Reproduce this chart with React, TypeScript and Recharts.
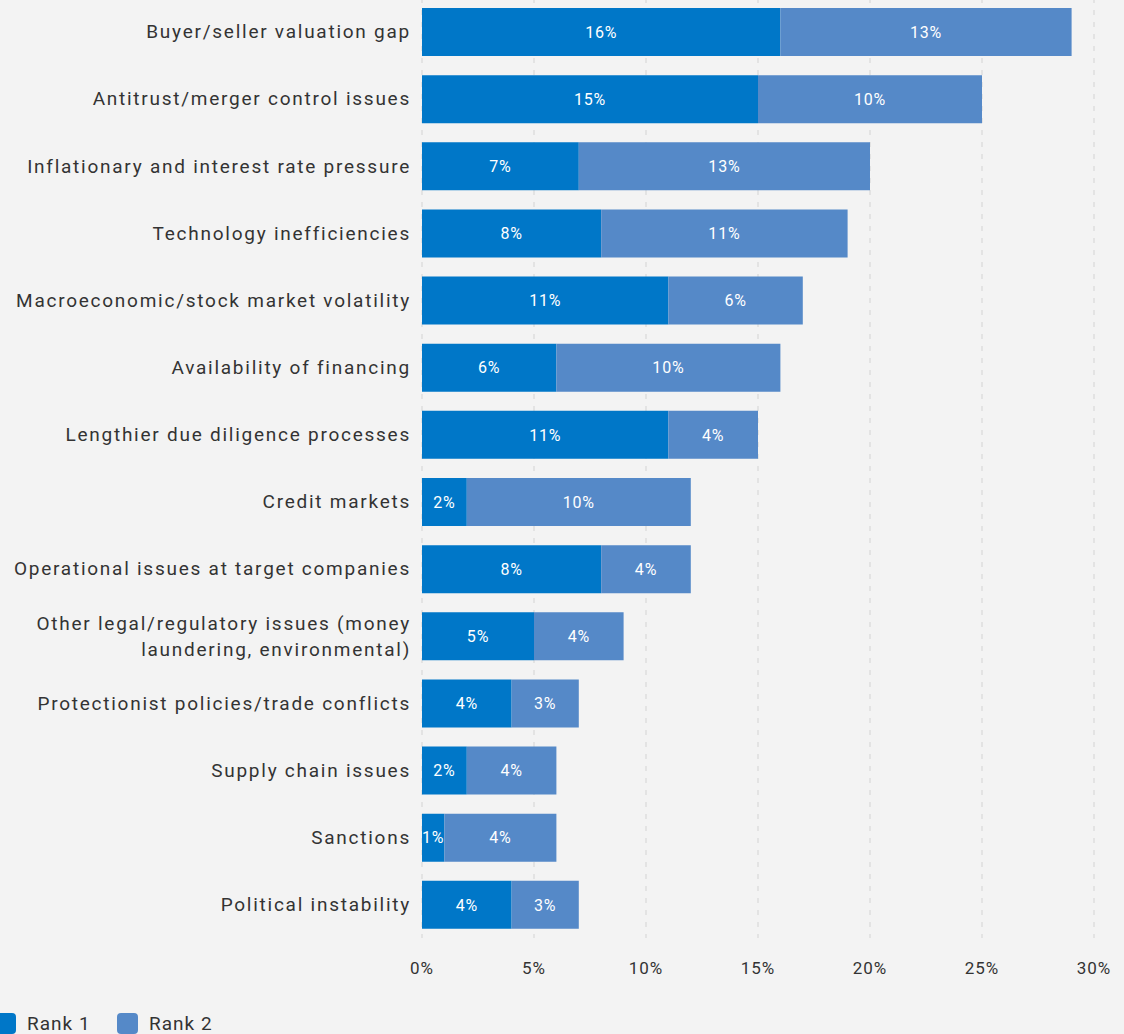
import React from 'react';
import {
  BarChart, Bar, XAxis, YAxis, CartesianGrid, Legend, LabelList,
} from 'recharts';

const categories = [
  'Buyer/seller valuation gap',
  'Antitrust/merger control issues',
  'Inflationary and interest rate pressure',
  'Technology inefficiencies',
  'Macroeconomic/stock market volatility',
  'Availability of financing',
  'Lengthier due diligence processes',
  'Credit markets',
  'Operational issues at target companies',
  'Other legal/regulatory issues (money|laundering, environmental)',
  'Protectionist policies/trade conflicts',
  'Supply chain issues',
  'Sanctions',
  'Political instability',
];

const rank1 = [16, 15, 7, 8, 11, 6, 11, 2, 8, 5, 4, 2, 1, 4];
const rank2 = [13, 10, 13, 11, 6, 10, 4, 10, 4, 4, 3, 4, 5, 3];
const rank1Labels = ['16%', '15%', '7%', '8%', '11%', '6%', '11%', '2%', '8%', '5%', '4%', '2%', '1%', '4%'];
const rank2Labels = ['13%', '10%', '13%', '11%', '6%', '10%', '4%', '10%', '4%', '4%', '3%', '4%', '4%', '3%'];
const xTicks = [0, 5, 10, 15, 20, 25, 30];

const RANK1 = '#0077c8';
const RANK2 = '#5589c8';
const FONT = 'Roboto, "Noto Sans", sans-serif';

const data = categories.map((name, i) => ({
  name,
  rank1: rank1[i],
  rank2: rank2[i],
  rank1Label: rank1Labels[i],
  rank2Label: rank2Labels[i],
}));

const CategoryTick = (props: any) => {
  const { x, y, payload } = props;
  const lines = String(payload.value).split('|');
  const lineH = 26;
  const start = y - ((lines.length - 1) * lineH) / 2;
  return (
    <text
      x={x}
      y={start}
      textAnchor="end"
      fill="#333"
      fontSize={19}
      fontFamily={FONT}
      letterSpacing={1.75}
    >
      {lines.map((l, i) => (
        <tspan key={i} x={x} y={start + i * lineH} dy="0.35em">{l}</tspan>
      ))}
    </text>
  );
};

const LegendContent = () => (
  <div style={{ height: 46, position: 'relative', fontFamily: FONT, fontSize: 19, color: '#333' }}>
    {[
      { label: 'Rank 1', color: RANK1, left: -5 },
      { label: 'Rank 2', color: RANK2, left: 117 },
    ].map((it) => (
      <div key={it.label} style={{ position: 'absolute', left: it.left, top: 24, display: 'flex', alignItems: 'center' }}>
        <span style={{ width: 21, height: 21, borderRadius: 4, background: it.color, display: 'inline-block' }} />
        <span style={{ marginLeft: 11, letterSpacing: 1 }}>{it.label}</span>
      </div>
    ))}
  </div>
);

export default function App() {
  return (
    <div style={{ position: 'absolute', left: 0, top: 0, width: 1124, height: 1034, background: '#f3f3f3', overflow: 'hidden' }}>
      <BarChart
        width={1124}
        height={1034}
        data={data}
        layout="vertical"
        margin={{ top: -2, right: 30, bottom: 0, left: 0 }}
        barSize={48}
      >
        <CartesianGrid horizontal={false} stroke="#dedede" strokeWidth={1.5} strokeDasharray="5 7" />
        <XAxis
          type="number"
          domain={[0, 30]}
          ticks={xTicks}
          tickFormatter={(v) => `${v}%`}
          axisLine={false}
          tickLine={false}
          tickSize={0}
          tickMargin={24}
          height={50}
          interval={0}
          tick={{ fill: '#333', fontSize: 17, fontFamily: FONT, letterSpacing: 1 }}
        />
        <YAxis
          type="category"
          dataKey="name"
          width={422}
          axisLine={false}
          tickLine={false}
          tickSize={0}
          tickMargin={11}
          interval={0}
          tick={<CategoryTick />}
        />
        <Legend verticalAlign="bottom" content={<LegendContent />} />
        <Bar dataKey="rank1" name="Rank 1" stackId="a" fill={RANK1} isAnimationActive={false}>
          <LabelList dataKey="rank1Label" position="center" fill="#fff" fontSize={16} fontFamily={FONT} letterSpacing={0.8} />
        </Bar>
        <Bar dataKey="rank2" name="Rank 2" stackId="a" fill={RANK2} isAnimationActive={false}>
          <LabelList dataKey="rank2Label" position="center" fill="#fff" fontSize={16} fontFamily={FONT} letterSpacing={0.8} />
        </Bar>
      </BarChart>
    </div>
  );
}
